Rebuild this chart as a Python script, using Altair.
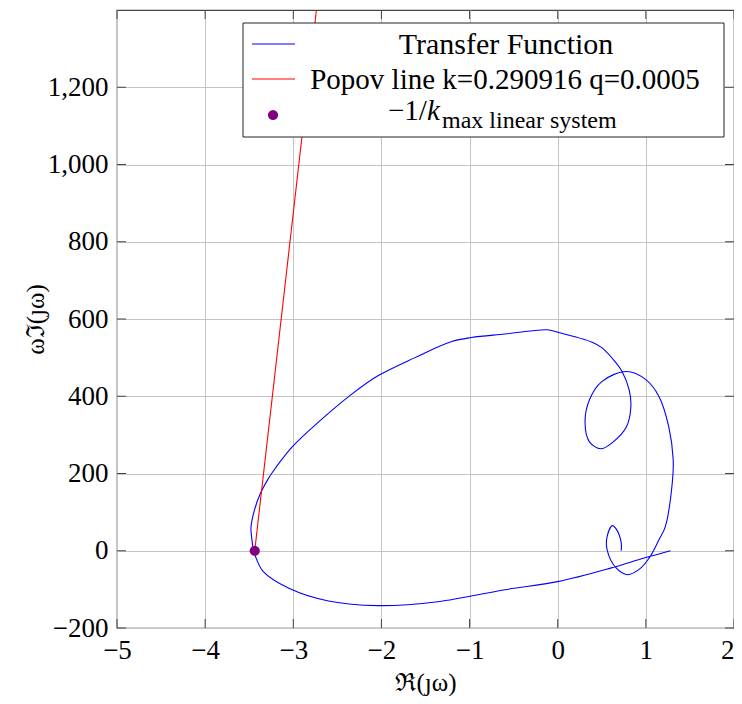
import altair as alt
import pandas as pd

# Transfer function curve (Popov plot), in drawing order
tf_re = [1.28, 0.98, 0.60, 0.0, -0.60, -1.36, -2.04, -2.60, -3.05, -3.34, -3.42, -3.45,
         -3.47, -3.48, -3.44, -3.37, -3.29, -3.24, -3.02, -2.68, -2.34, -2.04, -1.62, -1.21,
         -0.98, -0.60, -0.12, 0.0, 0.39, 0.50, 0.66, 0.73, 0.81, 0.83, 0.78, 0.62, 0.49,
         0.36, 0.31, 0.36, 0.50, 0.78, 1.00, 1.15, 1.26, 1.31, 1.30, 1.22, 1.15, 1.04,
         0.92, 0.79, 0.66, 0.56, 0.56, 0.62, 0.67, 0.72, 0.72]
tf_im = [0, -19, -45, -80, -101, -132, -142, -130, -97, -54, -20, 0,
         30, 60, 106, 150, 184, 202, 267, 340, 405, 453, 500, 541,
         552, 561, 572, 566, 540, 526, 487, 464, 417, 373, 321, 280, 264,
         282, 332, 391, 438, 464, 443, 399, 321, 236, 176, 62, 29, -18,
         -49, -62, -44, 3, 36, 65, 54, 21, 0]

# Popov line
k = 0.290916
q = 0.0005
popov_re = [-1 / k, -1 / k + 1400 * q]
popov_im = [0, 1400]

# -1/k point
pt_re = [-1 / k]
pt_im = [0]

legend_labels = ["Transfer Function", "Popov line k=0.290916 q=0.0005"]

x_ticks = [-5, -4, -3, -2, -1, 0, 1, 2]
y_ticks = [-200, 0, 200, 400, 600, 800, 1000, 1200]

FONT = "Liberation Serif, DejaVu Serif, serif"
W, H = 617, 618
TICK = 9

tf_df = pd.DataFrame({"re": tf_re, "im": tf_im, "i": list(range(len(tf_re)))})
popov_df = pd.DataFrame({"re": popov_re, "im": popov_im, "i": [0, 1]})
pt_df = pd.DataFrame({"re": pt_re, "im": pt_im})
xt_df = pd.DataFrame({"re": x_ticks})
yt_df = pd.DataFrame({"im": y_ticks})

xs = alt.Scale(domain=[-5, 2], nice=False, zero=False)
ys = alt.Scale(domain=[-200, 1400], nice=False, zero=False)

xax = alt.Axis(values=x_ticks, format="d", title="ℜ(ȷω)", grid=True, ticks=False,
               domain=False, labelPadding=9, titleFontSize=25, titleFont=FONT,
               titleFontWeight="normal", titleY=62, titleBaseline="alphabetic",
               titleAlign="center", labelFlush=False,
               labelAlign={"condition": {"test": "datum.value == 2", "value": "right"},
                           "value": "center"})
yax = alt.Axis(values=y_ticks, format=",d", title="ωℑ(ȷω)", grid=True, ticks=False,
               domain=False, labelPadding=9, titleFontSize=25, titleFont=FONT,
               titleFontWeight="normal", titleX=-82, titleY=309, titleAngle=-90,
               titleAlign="center", titleBaseline="middle")

tf_line = alt.Chart(tf_df).mark_line(color="#0000ff", strokeWidth=1.1,
                                     interpolate="catmull-rom").encode(
    x=alt.X("re:Q", scale=xs, axis=xax),
    y=alt.Y("im:Q", scale=ys, axis=yax),
    order="i:Q",
)

popov_line = alt.Chart(popov_df).mark_line(color="#ff0000", strokeWidth=1.1).encode(
    x=alt.X("re:Q", scale=xs),
    y=alt.Y("im:Q", scale=ys),
    order="i:Q",
)

point = alt.Chart(pt_df).mark_circle(color="#800080", size=105, opacity=1).encode(
    x=alt.X("re:Q", scale=xs),
    y=alt.Y("im:Q", scale=ys),
)

# inward ticks on all four sides (pgfplots style)
tick_color = "#444444"
xt_bottom = alt.Chart(xt_df).mark_rule(color=tick_color, strokeWidth=1).encode(
    x=alt.X("re:Q", scale=xs), y=alt.value(H), y2=alt.value(H - TICK))
xt_top = alt.Chart(xt_df).mark_rule(color=tick_color, strokeWidth=1).encode(
    x=alt.X("re:Q", scale=xs), y=alt.value(0), y2=alt.value(TICK))
yt_left = alt.Chart(yt_df).mark_rule(color=tick_color, strokeWidth=1).encode(
    y=alt.Y("im:Q", scale=ys), x=alt.value(0), x2=alt.value(TICK))
yt_right = alt.Chart(yt_df).mark_rule(color=tick_color, strokeWidth=1).encode(
    y=alt.Y("im:Q", scale=ys), x=alt.value(W), x2=alt.value(W - TICK))

one = pd.DataFrame({"a": [0]})

leg_box = alt.Chart(one).mark_rect(fill="white", stroke="#222222", strokeWidth=1).encode(
    x=alt.value(126), x2=alt.value(607), y=alt.value(13), y2=alt.value(127))
leg_blue = alt.Chart(one).mark_rule(color="#0000ff", strokeWidth=1.1).encode(
    x=alt.value(135), x2=alt.value(178), y=alt.value(34))
leg_red = alt.Chart(one).mark_rule(color="#ff0000", strokeWidth=1.1).encode(
    x=alt.value(135), x2=alt.value(178), y=alt.value(69))
leg_dot = alt.Chart(one).mark_circle(color="#800080", size=105, opacity=1).encode(
    x=alt.value(156), y=alt.value(105))

t1 = alt.Chart(one).mark_text(font=FONT, fontSize=30, align="center", baseline="middle",
                              color="black").encode(
    x=alt.value(389), y=alt.value(35), text=alt.value(legend_labels[0]))
t2 = alt.Chart(one).mark_text(font=FONT, fontSize=29, align="center", baseline="middle",
                              color="black").encode(
    x=alt.value(388), y=alt.value(70), text=alt.value(legend_labels[1]))
t3a = alt.Chart(one).mark_text(font=FONT, fontSize=29, align="left", baseline="alphabetic",
                               color="black").encode(
    x=alt.value(271), y=alt.value(110), text=alt.value("−1/"))
t3b = alt.Chart(one).mark_text(font=FONT, fontSize=29, align="left", baseline="alphabetic",
                               fontStyle="italic", color="black").encode(
    x=alt.value(310), y=alt.value(110), text=alt.value("k"))
t3c = alt.Chart(one).mark_text(font=FONT, fontSize=24, align="left", baseline="alphabetic",
                               color="black").encode(
    x=alt.value(325), y=alt.value(118), text=alt.value("max linear system"))

chart = alt.layer(
    tf_line, xt_bottom, xt_top, yt_left, yt_right, popov_line, point,
    leg_box, leg_blue, leg_red, leg_dot, t1, t2, t3a, t3b, t3c
).properties(
    width=W, height=H,
    padding={"left": 109, "top": 2, "right": 0, "bottom": 68},
    autosize=alt.AutoSizeParams(type="none"),
).configure_view(
    stroke="#444444", strokeWidth=1.2
).configure_axis(
    labelFont=FONT, labelFontSize=27, labelColor="black", titleColor="black",
    gridColor="#c4c4c4", gridWidth=1,
)

chart.save("out.html", embed_options={"renderer": "svg", "actions": False})
